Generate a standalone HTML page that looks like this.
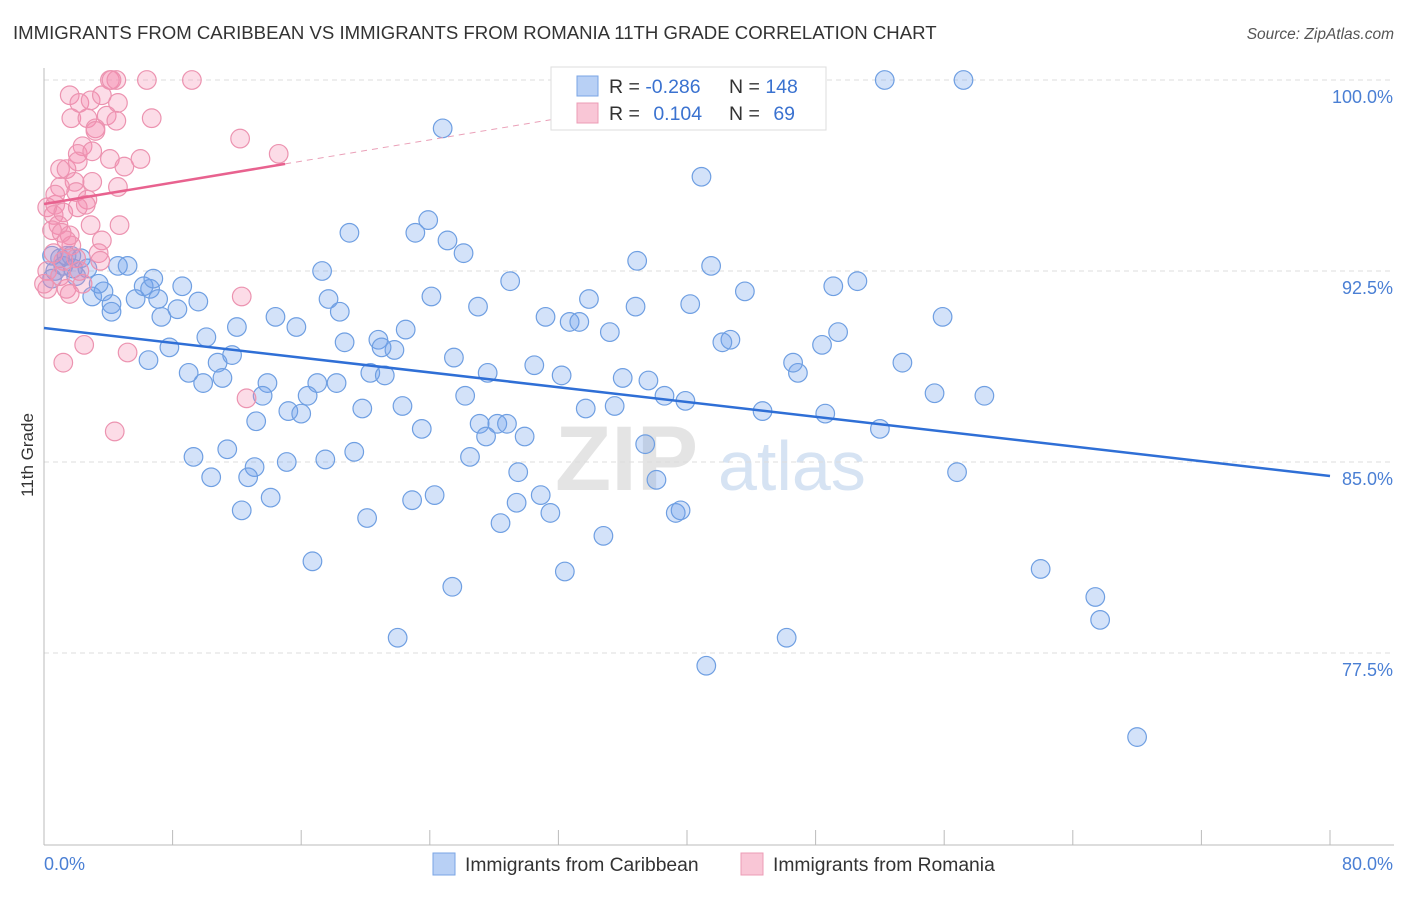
<!DOCTYPE html>
<html><head><meta charset="utf-8"><style>
body{margin:0;background:#fff;font-family:"Liberation Sans",sans-serif;}
svg text{font-family:"Liberation Sans",sans-serif;}
</style></head><body>
<svg id="chart" width="1406" height="892" xmlns="http://www.w3.org/2000/svg">
<text x="13" y="39" font-size="18.6" fill="#333">IMMIGRANTS FROM CARIBBEAN VS IMMIGRANTS FROM ROMANIA 11TH GRADE CORRELATION CHART</text>
<text x="1394" y="39" font-size="15.5" fill="#555" text-anchor="end" font-style="italic">Source: ZipAtlas.com</text>
<g>
<text x="555" y="490" font-size="92" fill="#e4e4e4" font-family="Liberation Serif" font-weight="bold">ZIP</text>
<text x="718" y="490" font-size="70" fill="#d6e3f3">atlas</text>
</g>
<g id="grid"></g>
<g id="axes"></g>
<g id="pts"></g>
<g id="lines"></g>
<text transform="translate(33,455) rotate(-90)" font-size="17" fill="#333" text-anchor="middle">11th Grade</text>
<text x="44" y="870" font-size="18" fill="#4a7fd4">0.0%</text>
<text x="1393" y="870" font-size="18" fill="#4a7fd4" text-anchor="end">80.0%</text>
<g>
<rect x="551" y="67" width="275" height="63" fill="#fff" stroke="#ddd"/>
<rect x="577" y="76" width="21" height="20" fill="#b8d0f5" stroke="#7aa5e5"/>
<rect x="577" y="103" width="21" height="20" fill="#f9c6d6" stroke="#ec9cb6"/>
<text x="609" y="93" font-size="19.5" fill="#333">R = <tspan fill="#3a72d0">-0.286</tspan></text>
<text x="729" y="93" font-size="19.5" fill="#333">N = <tspan fill="#3a72d0">148</tspan></text>
<text x="609" y="120" font-size="19.5" fill="#333">R = <tspan fill="#3a72d0" dx="8">0.104</tspan></text>
<text x="729" y="120" font-size="19.5" fill="#333">N = <tspan fill="#3a72d0" dx="8">69</tspan></text>
</g>
<g>
<rect x="433" y="853" width="22" height="22" fill="#b8d0f5" stroke="#7aa5e5"/>
<text x="465" y="871" font-size="19.3" fill="#333">Immigrants from Caribbean</text>
<rect x="741" y="853" width="22" height="22" fill="#f9c6d6" stroke="#ec9cb6"/>
<text x="773" y="871" font-size="19.3" fill="#333">Immigrants from Romania</text>
</g>
</svg>
<script>
const yTicks=[100,92.5,85,77.5];
const yTickLabels=["100.0%","92.5%","85.0%","77.5%"];
const xTicks=[0,8,16,24,32,40,48,56,64,72,80];
const blueX=[52.3,57.2,24.8,40.9,23.9,19.0,23.1,25.1,26.1,36.9,17.3,29.0,41.5,50.6,49.1,43.6,33.9,24.1,17.7,27.0,36.8,40.2,31.2,32.7,33.3,35.2,22.5,15.7,14.4,18.4,20.8,55.9,49.4,48.4,42.7,42.2,21.8,21.0,18.7,25.5,30.5,27.6,32.2,20.3,21.2,36.0,37.6,46.9,46.6,53.4,38.6,39.9,26.2,17.0,18.2,13.9,16.4,13.6,55.4,58.5,44.7,48.6,52.0,33.7,35.5,22.3,19.8,15.2,16.0,13.2,23.5,27.1,28.2,28.8,27.5,29.9,37.4,19.3,11.4,9.3,15.1,13.1,17.5,26.5,29.5,12.7,10.4,38.1,24.3,22.9,30.9,29.4,56.8,14.1,12.3,20.1,31.5,28.4,39.3,39.6,34.8,16.7,32.4,62.0,25.4,65.4,65.7,22.0,46.2,41.2,68.0,0.5,1.0,1.7,2.3,0.7,0.5,1.2,1.8,2.7,3.0,3.7,3.4,4.2,4.6,5.2,5.7,6.2,6.6,6.8,7.1,7.3,7.8,8.3,8.6,9.0,9.6,9.9,10.1,10.8,11.1,11.7,12.0,6.5,4.2,2.0,1.4];
const blueY=[100,100,98.1,96.2,94.5,94.0,94.0,93.7,93.2,92.9,92.5,92.1,92.7,92.1,91.9,91.7,91.4,91.5,91.4,91.1,91.1,91.2,90.7,90.5,90.5,90.1,90.2,90.3,90.7,90.9,89.8,90.7,90.1,89.6,89.8,89.7,89.4,89.5,89.7,89.1,88.8,88.5,88.4,88.5,88.4,88.3,88.2,88.5,88.9,88.9,87.6,87.4,87.6,88.1,88.1,88.1,87.6,87.6,87.7,87.6,87.0,86.9,86.3,87.1,87.2,87.2,87.1,87.0,86.9,86.6,86.3,86.5,86.5,86.5,86.0,86.0,85.7,85.4,85.5,85.2,85.0,84.8,85.1,85.2,84.6,84.4,84.4,84.3,83.7,83.5,83.7,83.4,84.6,83.6,83.1,82.8,83.0,82.6,83.0,83.1,82.1,81.1,80.7,80.8,80.1,79.7,78.8,78.1,78.1,77.0,74.2,93.1,93.0,93.1,93.0,92.5,92.2,92.7,92.6,92.6,91.5,91.7,92.0,91.2,92.7,92.7,91.4,91.9,91.8,92.2,91.4,90.7,89.5,91.0,91.9,88.5,91.3,88.1,89.9,88.9,88.3,89.2,90.3,89.0,90.9,92.3,93.1];
const pinkX=[4.1,4.5,4.2,6.4,9.2,1.6,2.2,2.9,3.6,4.6,1.7,2.7,3.9,4.5,3.2,6.7,3.2,12.2,2.4,2.1,3.0,4.1,5.0,6.0,14.6,1.0,1.4,2.1,1.9,1.0,2.0,4.6,2.7,0.7,0.2,0.6,1.2,2.1,2.6,2.9,4.7,0.9,0.5,1.1,1.6,3.6,1.7,3.4,0.6,1.2,2.0,0.2,1.0,2.2,1.4,0.2,2.4,1.6,12.3,2.5,5.2,1.2,12.6,4.4,0,3.5,0.7,1.4,3.0];
const pinkY=[100,100,100,100,100,99.4,99.1,99.2,99.4,99.1,98.5,98.5,98.6,98.4,98.1,98.5,98.0,97.7,97.4,97.1,97.2,96.9,96.6,96.9,97.1,96.5,96.5,96.8,96.0,95.8,95.6,95.8,95.3,95.1,95.0,94.7,94.8,95.0,95.1,94.3,94.3,94.3,94.1,94.0,93.9,93.7,93.5,93.2,93.2,92.9,93.0,92.5,92.3,92.5,91.8,91.8,92.0,91.6,91.5,89.6,89.3,88.9,87.5,86.2,92.0,92.9,95.5,93.7,96.0];
const blueTrend=[90.26,84.45];
const pinkTrend=[95.13,0.105];
const NS="http://www.w3.org/2000/svg";
const X0=44,X1=1330,Y100=80,PXPER=191/7.5;
function sx(v){return X0+(X1-X0)*v/80;}
function sy(v){return Y100+(100-v)*PXPER;}
function mk(tag,attrs,parent){const e=document.createElementNS(NS,tag);for(const k in attrs)e.setAttribute(k,attrs[k]);parent.appendChild(e);return e;}
const grid=document.getElementById('grid'),axes=document.getElementById('axes'),pts=document.getElementById('pts'),lines=document.getElementById('lines');
yTicks.forEach((t,i)=>{
 const l=mk('line',{x1:X0,x2:1394,y1:sy(t),y2:sy(t),stroke:'#ddd','stroke-dasharray':'5,4'},grid);
 
 
 const tx=mk('text',{x:1393,y:sy(t)+23,'font-size':18,fill:'#4a7fd4','text-anchor':'end'},grid);
 tx.textContent=yTickLabels[i];
 
 
});
const ya=mk('line',{x1:X0,x2:X0,y1:68,y2:845,stroke:'#bbb'},axes);


const xa=mk('line',{x1:X0,x2:1394,y1:845,y2:845,stroke:'#bbb'},axes);


xTicks.forEach(t=>{
 const l=mk('line',{x1:sx(t),x2:sx(t),y1:830,y2:845,stroke:'#bbb'},axes);
 
 
});
blueX.forEach((v,i)=>{
 const c=mk('circle',{cx:sx(v),cy:sy(blueY[i]),r:9.3,fill:'rgba(110,160,235,0.3)',stroke:'#6f9fe2','stroke-width':1.2},pts);
 
 
});
pinkX.forEach((v,i)=>{
 const c=mk('circle',{cx:sx(v),cy:sy(pinkY[i]),r:9.3,fill:'rgba(245,140,175,0.3)',stroke:'#ec93b0','stroke-width':1.2},pts);
 
 
});
const bl=mk('line',{x1:sx(0),y1:sy(blueTrend[0]),x2:sx(80),y2:sy(blueTrend[1]),stroke:'#2f6fd6','stroke-width':2.5},lines);


const pl=mk('line',{x1:sx(0),y1:sy(pinkTrend[0]),x2:sx(15),y2:sy(pinkTrend[0]+15*pinkTrend[1]),stroke:'#e8628f','stroke-width':2.5},lines);


const pd=mk('line',{x1:sx(15),y1:sy(pinkTrend[0]+15*pinkTrend[1]),x2:sx(32),y2:sy(pinkTrend[0]+32*pinkTrend[1]),stroke:'#eaa0b8','stroke-width':1,'stroke-dasharray':'6,5'},lines);


</script>
</body></html>
